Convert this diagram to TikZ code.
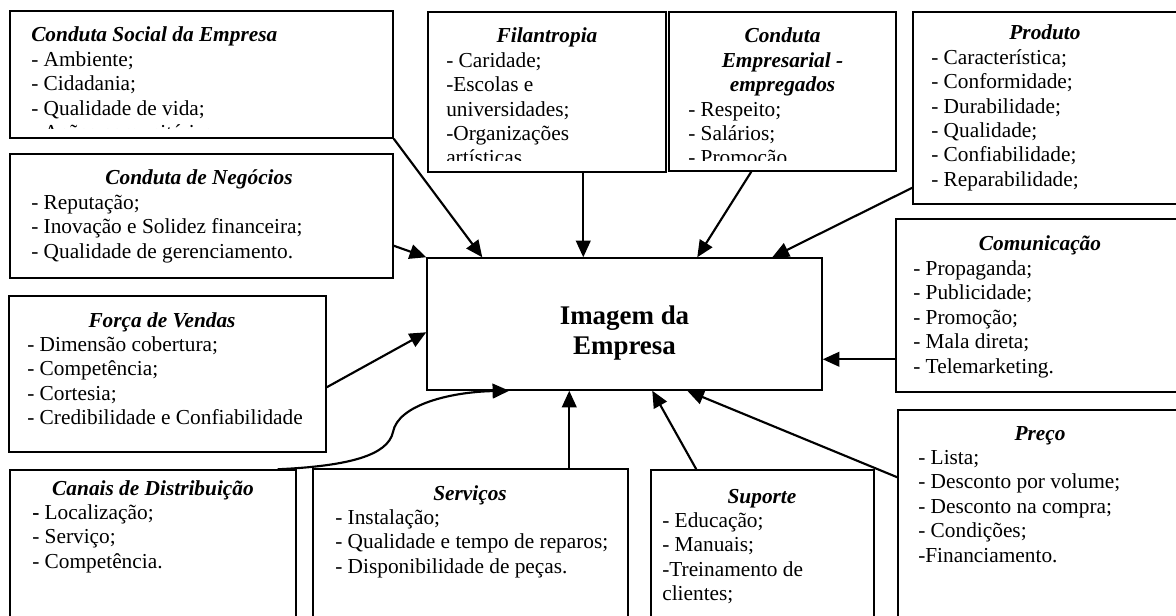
\documentclass[tikz,border=0pt]{standalone}
\usepackage{fontspec}
\setmainfont{Liberation Serif}
\usetikzlibrary{arrows.meta,calc,fit}
\tikzset{
 boxs/.style={draw, line width=1.1pt, inner sep=0pt},
 txt/.style={inner sep=0pt, font=\fontsize{16pt}{18.3pt}\selectfont},
 ttl/.style={inner sep=0pt, font=\fontsize{16pt}{18.3pt}\selectfont\bfseries\itshape},
 bigt/.style={inner sep=0pt, font=\fontsize{20.2pt}{22pt}\selectfont\bfseries},
 arr/.style={line width=1.6pt, -{Triangle[length=12.5pt,width=11pt]}},
}
\newcommand\itemlines[4]{\foreach \t [count=\i] in {#4} {\node[txt, anchor=base west] (#1-\i) at (#2,{#3+24.4*(\i-1)}) {\t};}}
\begin{document}
\begin{tikzpicture}[x=0.75pt,y=-0.75pt]
\useasboundingbox (0,0) rectangle (1176,616);
\begin{scope}
\clip (0,0) rectangle (1176,616);
% boxes
\node[boxs, fit={(10,11) (393,138)}] (soc) {};
\node[boxs, fit={(10,154) (393,278)}] (neg) {};
\node[boxs, fit={(9,296) (326,452)}] (forca) {};
\node[boxs, fit={(10,470) (296,650)}] (can) {};
\node[boxs, fit={(313,469) (628,650)}] (serv) {};
\node[boxs, fit={(651,470) (874,650)}] (sup) {};
\node[boxs, fit={(898,410) (1182,650)}] (preco) {};
\node[boxs, fit={(896,219) (1184,392)}] (com) {};
\node[boxs, fit={(913,12) (1178,204)}] (prod) {};
\node[boxs, fit={(428,12) (666,172)}] (fil) {};
\node[boxs, fit={(669,12) (896,171)}] (cemp) {};
\node[boxs, fit={(427,258) (822,390)}] (img) {};
% central text
\node[bigt, anchor=base] (img-a) at (624.5,324) {Imagem da};
\node[bigt, anchor=base] (img-b) at (624.5,354) {Empresa};
% Conduta Social
\node[ttl, anchor=base west] (soc-t) at (31,42) {Conduta Social da Empresa};
\begin{scope}
\clip (10,11) rectangle (393,129);
\itemlines{soc}{31}{66.6}{- Ambiente;,- Cidadania;,- Qualidade de vida;,- Ações comunitárias;}
\end{scope}
% Conduta de Negocios
\node[ttl, anchor=base] (neg-t) at (199,185) {Conduta de Negócios};
\itemlines{neg}{31}{209.4}{- Reputação;,- Inovação e Solidez financeira;,- Qualidade de gerenciamento.}
% Forca de Vendas
\node[ttl, anchor=base] (forca-t) at (162,327) {Força de Vendas};
\itemlines{forca}{27}{351.4}{- Dimensão cobertura;,- Competência;,- Cortesia;,- Credibilidade e Confiabilidade}
% Canais
\node[ttl, anchor=base] (can-t) at (153,495) {Canais de Distribuição};
\itemlines{can}{32}{519.4}{\textbf{-} Localização;,- Serviço;,- Competência.}
% Servicos
\node[ttl, anchor=base] (serv-t) at (470,500) {Serviços};
\itemlines{serv}{335}{524.4}{- Instalação;,- Qualidade e tempo de reparos;,- Disponibilidade de peças.}
% Suporte
\node[ttl, anchor=base] (sup-t) at (762,503) {Suporte};
\itemlines{sup}{662}{527.4}{- Educação;,- Manuais;,-Treinamento de,clientes;}
% Preco
\node[ttl, anchor=base] (preco-t) at (1040,440) {Preço};
\itemlines{preco}{918}{464.4}{- Lista;,- Desconto por volume;,- Desconto na compra;,- Condições;,-Financiamento.}
% Comunicacao
\node[ttl, anchor=base] (com-t) at (1040,251) {Comunicação};
\itemlines{com}{913}{275.4}{- Propaganda;,- Publicidade;,- Promoção;,- Mala direta;,- Telemarketing.}
% Produto
\node[ttl, anchor=base] (prod-t) at (1045,40) {Produto};
\itemlines{prod}{931}{64.4}{- Característica;,- Conformidade;,- Durabilidade;,- Qualidade;,- Confiabilidade;,- Reparabilidade;}
% Filantropia
\node[ttl, anchor=base] (fil-t) at (547,43) {Filantropia};
\begin{scope}
\clip (428,12) rectangle (666,161);
\itemlines{fil}{446}{67.4}{- Caridade;,-Escolas e,universidades;,-Organizações,artísticas}
\end{scope}
% Conduta Empresarial
\node[ttl, anchor=base] (cemp-t1) at (782.5,43) {Conduta};
\node[ttl, anchor=base] (cemp-t2) at (782.5,67.4) {Empresarial -};
\node[ttl, anchor=base] (cemp-t3) at (782.5,91.8) {empregados};
\begin{scope}
\clip (669,12) rectangle (896,161);
\itemlines{cemp}{688}{116.2}{- Respeito;,- Salários;,- Promoção}
\end{scope}
% arrows
\draw[arr] (soc.south east) -- ($(img.north west)+(56,0)$);
\draw[arr] ($(neg.south east)+(0,-33)$) -- (img.north west);
\draw[arr] ($(fil.south west)+(156,0)$) -- ($(img.north west)+(157,0)$);
\draw[arr] ($(cemp.south west)+(83,0)$) -- ($(img.north west)+(271,0)$);
\draw[arr] ($(prod.south west)+(0,-17)$) -- ($(img.north west)+(346,0)$);
\draw[arr] ($(com.north west)+(0,141)$) -- ($(img.north east)+(0,102)$);
\draw[arr] ($(forca.north east)+(0,92)$) -- ($(img.north west)+(0,75)$);
\coordinate (cmid) at (393,432);
\draw[arr] ($(can.north east)+(-19,0)$) .. controls (350,466) and (388,455) .. (cmid) .. controls (398,405) and (450,392) .. ($(img.south west)+(83,0)$);
\draw[arr] ($(serv.north west)+(257,0)$) -- ($(img.south west)+(143,0)$);
\draw[arr] ($(sup.north west)+(46,0)$) -- ($(img.south west)+(226,0)$);
\draw[arr] ($(preco.north west)+(0,68)$) -- ($(img.south west)+(261,0)$);
\end{scope}
\end{tikzpicture}
\end{document}
